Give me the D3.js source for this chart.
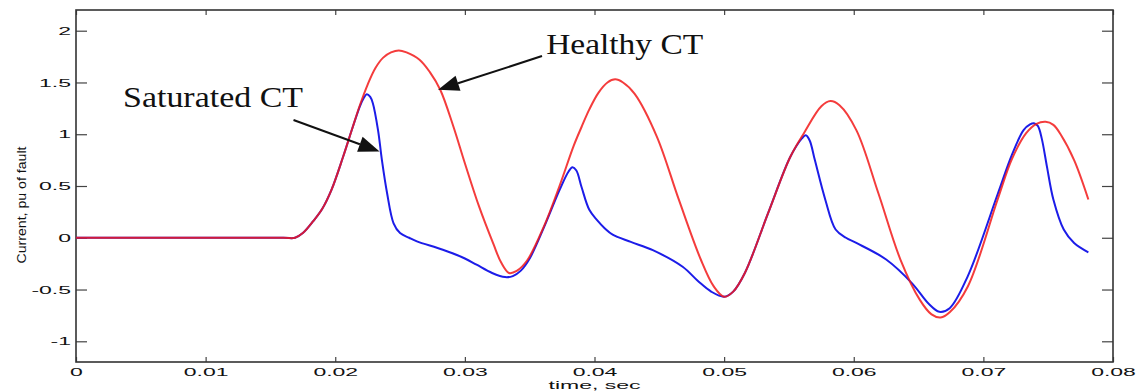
<!DOCTYPE html>
<html>
<head>
<meta charset="utf-8">
<script src="https://cdn.jsdelivr.net/npm/d3@7"></script>
<style>
  body { margin: 0; background: #fff; }
  svg { display: block; }
</style>
</head>
<body>
<div id="viz"></div>
<script>
// healthy CT secondary current (pu of fault), time in sec
const timeHealthy = [0, 0.0160, 0.0169, 0.0175, 0.0183, 0.0190, 0.0197, 0.0206, 0.0213, 0.0219, 0.0225, 0.0231,
    0.0237, 0.0243, 0.0249, 0.0255, 0.0265, 0.0273, 0.0281, 0.0291, 0.0300, 0.0311, 0.0322, 0.0328,
    0.0334, 0.0340, 0.0348, 0.0361, 0.0373, 0.0384, 0.0390, 0.0396, 0.0403, 0.0410, 0.0416, 0.0422,
    0.0431, 0.0448, 0.0465, 0.0482, 0.0492, 0.0500, 0.0507, 0.0516, 0.0534, 0.0551, 0.0562, 0.0575,
    0.0582, 0.0589, 0.0602, 0.0619, 0.0636, 0.0651, 0.0660, 0.0667, 0.0674, 0.0688, 0.0711, 0.0722,
    0.0733, 0.0741, 0.0748, 0.0754, 0.0760, 0.0770, 0.0781];
const currentHealthy = [0, 0, 0, 0.045, 0.16, 0.28, 0.46, 0.78, 1.05, 1.28, 1.48, 1.64,
    1.74, 1.79, 1.81, 1.79, 1.72, 1.60, 1.43, 1.08, 0.72, 0.30, -0.06, -0.24,
    -0.34, -0.32, -0.22, 0.11, 0.50, 0.89, 1.07, 1.24, 1.40, 1.50, 1.53, 1.50,
    1.39, 0.98, 0.37, -0.21, -0.47, -0.57, -0.52, -0.34, 0.24, 0.78, 1.02, 1.27,
    1.32, 1.28, 1.04, 0.43, -0.21, -0.60, -0.74, -0.77, -0.72, -0.47, 0.37, 0.76,
    1.01, 1.10, 1.12, 1.09, 0.99, 0.75, 0.37];

// saturated CT secondary current
const timeSaturated = [0, 0.0160, 0.0169, 0.0175, 0.0183, 0.0190, 0.0197, 0.0206, 0.0213, 0.0219, 0.0222, 0.02243,
    0.0227, 0.0229, 0.0233, 0.0236, 0.0240, 0.0245, 0.0250, 0.0257, 0.0263, 0.0283, 0.0300, 0.0309,
    0.0321, 0.0331, 0.0337, 0.0343, 0.0350, 0.0361, 0.0373, 0.0380, 0.0383, 0.0386, 0.0390, 0.0396,
    0.0402, 0.0408, 0.0414, 0.0428, 0.0445, 0.0468, 0.0480, 0.0490, 0.0500, 0.0507, 0.0516, 0.0534,
    0.0551, 0.0560, 0.0563, 0.0566, 0.0570, 0.0578, 0.0586, 0.0594, 0.0602, 0.0625, 0.0645, 0.0658,
    0.0666, 0.0674, 0.0688, 0.0711, 0.0722, 0.0731, 0.0736, 0.0739, 0.0742, 0.0745, 0.0749, 0.0754,
    0.0762, 0.0770, 0.0781];
const currentSaturated = [0, 0, 0, 0.045, 0.16, 0.28, 0.46, 0.78, 1.05, 1.27, 1.35, 1.386,
    1.36, 1.30, 1.04, 0.75, 0.43, 0.14, 0.045, 0.0, -0.035, -0.116, -0.20, -0.26,
    -0.34, -0.38, -0.37, -0.32, -0.20, 0.10, 0.46, 0.64, 0.68, 0.65, 0.49, 0.27,
    0.17, 0.09, 0.03, -0.04, -0.12, -0.28, -0.42, -0.52, -0.57, -0.52, -0.34, 0.24,
    0.78, 0.96, 0.99, 0.94, 0.75, 0.37, 0.08, 0.0, -0.05, -0.21, -0.44, -0.64,
    -0.715, -0.68, -0.37, 0.42, 0.80, 1.04, 1.095, 1.106, 1.08, 0.96, 0.69, 0.37,
    0.08, -0.05, -0.14];

const xTicks = [0, 0.01, 0.02, 0.03, 0.04, 0.05, 0.06, 0.07, 0.08],
    xTickLabels = ['0', '0.01', '0.02', '0.03', '0.04', '0.05', '0.06', '0.07', '0.08'],
    yTicks = [-1, -0.5, 0, 0.5, 1, 1.5, 2],
    yTickLabels = ['-1', '-0.5', '0', '0.5', '1', '1.5', '2'];

const svg = d3.select('#viz')
    .append('svg')
    .attr('width', 1143)
    .attr('height', 391)
    .style('background', '#fff');

const margin = {top: 10, right: 30, bottom: 29, left: 76},
    width = +svg.attr('width') - margin.left - margin.right,
    height = +svg.attr('height') - margin.top - margin.bottom;

const g = svg.append('g')
    .attr('transform', 'translate(' + margin.left + ',' + margin.top + ')');

const x = d3.scaleLinear().domain([0, 0.08]).range([0, width]);
const y = d3.scaleLinear().domain([-1.2, 2.2]).range([height, 0]);

const tickFont = (sel) => sel.selectAll('text')
    .style('font-family', '"Liberation Sans", Arial, sans-serif')
    .style('font-size', '11.5px')
    .attr('fill', '#111');

// axes, ticks pointing inward (box style)
const xAxis = g.append('g')
    .attr('transform', 'translate(0,' + height + ')')
    .call(d3.axisBottom(x).tickValues(xTicks)
        .tickFormat(d => xTickLabels[xTicks.indexOf(d)])
        .tickSizeInner(-5).tickSizeOuter(0).tickPadding(5.5));
xAxis.call(tickFont);
xAxis.selectAll('text').attr('transform', 'scale(2,1)');

g.append('g')
    .call(d3.axisTop(x).tickValues(xTicks).tickFormat('')
        .tickSizeInner(-5).tickSizeOuter(0));

const yAxis = g.append('g')
    .call(d3.axisLeft(y).tickValues(yTicks)
        .tickFormat(d => yTickLabels[yTicks.indexOf(d)])
        .tickSizeInner(-11).tickSizeOuter(0).tickPadding(5));
yAxis.call(tickFont);
yAxis.selectAll('text').attr('x', -2.5).attr('transform', 'scale(2,1)');

g.append('g')
    .attr('transform', 'translate(' + width + ',0)')
    .call(d3.axisRight(y).tickValues(yTicks).tickFormat('')
        .tickSizeInner(-11).tickSizeOuter(0));

g.selectAll('.domain').remove();
g.selectAll('.tick line').attr('stroke', '#444').attr('stroke-width', 1.2);

g.append('rect')
    .attr('width', width)
    .attr('height', height)
    .attr('fill', 'none')
    .attr('stroke', '#333')
    .attr('stroke-width', 1.6);

// curves
const line = d3.line()
    .x(d => x(d[0]))
    .y(d => y(d[1]))
    .curve(d3.curveCatmullRom.alpha(0.5));

g.append('path')
    .datum(timeSaturated.map((t, i) => [t, currentSaturated[i]]))
    .attr('d', line)
    .attr('fill', 'none')
    .attr('stroke', '#1c1ce8')
    .attr('stroke-width', 2);

g.append('path')
    .datum(timeHealthy.map((t, i) => [t, currentHealthy[i]]))
    .attr('d', line)
    .attr('fill', 'none')
    .attr('stroke', '#f21a1a')
    .attr('stroke-opacity', 0.85)
    .attr('stroke-width', 2);

// axis labels
svg.append('text')
    .attr('transform', 'translate(' + (margin.left + width / 2) + ',389) scale(2,1)')
    .attr('text-anchor', 'middle')
    .style('font-family', '"Liberation Sans", Arial, sans-serif')
    .style('font-size', '11.5px')
    .attr('fill', '#111')
    .text('time, sec');

svg.append('text')
    .attr('transform', 'translate(26,205) rotate(-90)')
    .attr('text-anchor', 'middle')
    .attr('textLength', 117)
    .attr('lengthAdjust', 'spacingAndGlyphs')
    .style('font-family', '"Liberation Sans", Arial, sans-serif')
    .style('font-size', '12.5px')
    .attr('fill', '#111')
    .text('Current, pu of fault');

// annotations (positions in data units)
const notes = [
    {label: 'Healthy CT', tx: 0.03627, ty: 1.774, len: 157, from: [0.03595, 1.755], to: [0.02793, 1.43]},
    {label: 'Saturated CT', tx: 0.00363, ty: 1.263, len: 180, from: [0.01678, 1.138], to: [0.02342, 0.834]}
];

notes.forEach(function(n) {
    g.append('text')
        .attr('x', x(n.tx))
        .attr('y', y(n.ty))
        .attr('textLength', n.len)
        .attr('lengthAdjust', 'spacingAndGlyphs')
        .style('font-family', '"Liberation Serif", "Times New Roman", serif')
        .style('font-size', '30px')
        .attr('fill', '#111')
        .text(n.label);

    const x0 = x(n.from[0]), y0 = y(n.from[1]),
        x1 = x(n.to[0]), y1 = y(n.to[1]);
    const ang = Math.atan2(y1 - y0, x1 - x0),
        headLen = 21, headW = 8;
    const bx = x1 - headLen * Math.cos(ang), by = y1 - headLen * Math.sin(ang);

    g.append('line')
        .attr('x1', x0).attr('y1', y0)
        .attr('x2', bx).attr('y2', by)
        .attr('stroke', '#111')
        .attr('stroke-width', 2);

    g.append('path')
        .attr('d', 'M' + x1 + ',' + y1 +
            'L' + (bx + headW * Math.sin(ang)) + ',' + (by - headW * Math.cos(ang)) +
            'L' + (bx - headW * Math.sin(ang)) + ',' + (by + headW * Math.cos(ang)) + 'Z')
        .attr('fill', '#111');
});
</script>
</body>
</html>
